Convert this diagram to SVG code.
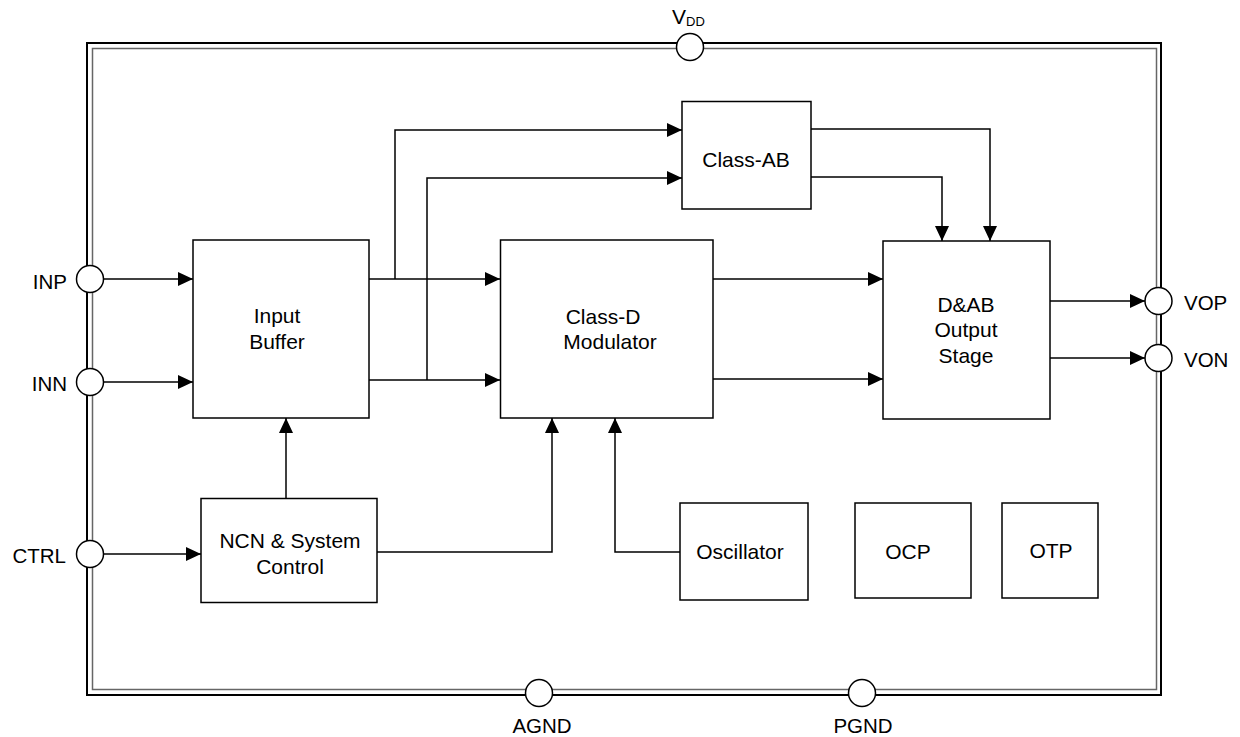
<svg xmlns="http://www.w3.org/2000/svg" width="1240" height="737" viewBox="0 0 1240 737">
<style>
.blk{fill:#fff;stroke:#000;stroke-width:1.5}
.pin{fill:#fff;stroke:#000;stroke-width:1.5}
.t{font-family:"Liberation Sans",Arial,sans-serif;font-size:21px;fill:#000}
.c{fill:none;stroke:#000;stroke-width:1.5}
</style>
<defs>
<marker id="ah" markerUnits="userSpaceOnUse" markerWidth="16" markerHeight="14" refX="15" refY="7" orient="auto">
<path d="M0,0 L15,7 L0,14 z" fill="#000"/>
</marker>
</defs>
<rect width="1240" height="737" fill="#fff"/>
<g id="chip-border">
<rect x="87" y="43" width="1074" height="652" fill="none" stroke="#000" stroke-width="2"/>
<rect x="92.5" y="48.5" width="1064" height="641" fill="none" stroke="#666" stroke-width="1.5"/>
</g>
<g id="connectors">
<path class="c" d="M103.5,279 H193" marker-end="url(#ah)"/>
<path class="c" d="M103.5,382 H193" marker-end="url(#ah)"/>
<path class="c" d="M103.5,554 H201" marker-end="url(#ah)"/>
<path class="c" d="M286,498 V418" marker-end="url(#ah)"/>
<path class="c" d="M377,552 H552 V418" marker-end="url(#ah)"/>
<path class="c" d="M680,552 H615 V418" marker-end="url(#ah)"/>
<path class="c" d="M369,279 H500" marker-end="url(#ah)"/>
<path class="c" d="M395,279 V130 H682" marker-end="url(#ah)"/>
<path class="c" d="M369,380 H500" marker-end="url(#ah)"/>
<path class="c" d="M427,380 V178 H682" marker-end="url(#ah)"/>
<path class="c" d="M713,279 H883" marker-end="url(#ah)"/>
<path class="c" d="M713,379 H883" marker-end="url(#ah)"/>
<path class="c" d="M811,129 H990 V241" marker-end="url(#ah)"/>
<path class="c" d="M811,177 H942 V241" marker-end="url(#ah)"/>
<path class="c" d="M1050,301 H1145" marker-end="url(#ah)"/>
<path class="c" d="M1050,358 H1145" marker-end="url(#ah)"/>
</g>
<g id="input-buffer">
<rect class="blk" x="193" y="240" width="176" height="178"/>
<text class="t" x="277" y="323" text-anchor="middle">Input</text>
<text class="t" x="277" y="349" text-anchor="middle">Buffer</text>
</g>
<g id="class-d">
<rect class="blk" x="500.5" y="240" width="212.5" height="178"/>
<text class="t" x="603" y="324" text-anchor="middle">Class-D</text>
<text class="t" x="610" y="349" text-anchor="middle">Modulator</text>
</g>
<g id="class-ab">
<rect class="blk" x="682" y="101.5" width="129" height="107.5"/>
<text class="t" x="746" y="167" text-anchor="middle">Class-AB</text>
</g>
<g id="output-stage">
<rect class="blk" x="883" y="241" width="167" height="178"/>
<text class="t" x="966" y="312" text-anchor="middle">D&amp;AB</text>
<text class="t" x="966" y="337" text-anchor="middle">Output</text>
<text class="t" x="966" y="363" text-anchor="middle">Stage</text>
</g>
<g id="ncn-control">
<rect class="blk" x="201" y="498.5" width="176" height="104"/>
<text class="t" x="290" y="548" text-anchor="middle">NCN &amp; System</text>
<text class="t" x="290" y="574" text-anchor="middle">Control</text>
</g>
<g id="oscillator">
<rect class="blk" x="680" y="503" width="128" height="97"/>
<text class="t" x="740" y="559" text-anchor="middle">Oscillator</text>
</g>
<g id="ocp">
<rect class="blk" x="855" y="503" width="116" height="95"/>
<text class="t" x="908" y="559" text-anchor="middle">OCP</text>
</g>
<g id="otp">
<rect class="blk" x="1002" y="503" width="96" height="95"/>
<text class="t" x="1051" y="558" text-anchor="middle">OTP</text>
</g>
<g id="pin-vdd">
<circle class="pin" cx="690" cy="47" r="13.5"/>
<text class="t" x="672" y="24" style="font-size:21px">V<tspan dy="2" style="font-size:13px">DD</tspan></text>
</g>
<g id="pin-inp">
<circle class="pin" cx="90" cy="279" r="13.5"/>
<text class="t" x="67" y="289" text-anchor="end" style="font-size:20.5px">INP</text>
</g>
<g id="pin-inn">
<circle class="pin" cx="90" cy="382" r="13.5"/>
<text class="t" x="67" y="391" text-anchor="end" style="font-size:20.5px">INN</text>
</g>
<g id="pin-ctrl">
<circle class="pin" cx="90" cy="554" r="13.5"/>
<text class="t" x="66" y="563" text-anchor="end" style="font-size:20.5px">CTRL</text>
</g>
<g id="pin-vop">
<circle class="pin" cx="1158.5" cy="301" r="13.5"/>
<text class="t" x="1184" y="310" style="font-size:20.5px">VOP</text>
</g>
<g id="pin-von">
<circle class="pin" cx="1158.5" cy="358" r="13.5"/>
<text class="t" x="1184" y="367" style="font-size:20.5px">VON</text>
</g>
<g id="pin-agnd">
<circle class="pin" cx="539" cy="693" r="13.5"/>
<text class="t" x="542" y="733" text-anchor="middle" style="font-size:20.5px">AGND</text>
</g>
<g id="pin-pgnd">
<circle class="pin" cx="862" cy="693" r="13.5"/>
<text class="t" x="863" y="733" text-anchor="middle" style="font-size:20.5px">PGND</text>
</g>
</svg>
